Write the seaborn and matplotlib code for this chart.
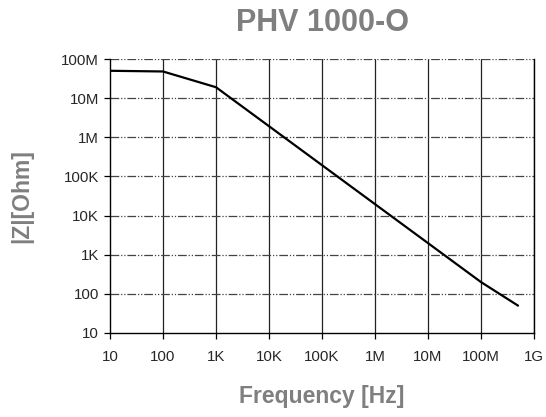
import numpy as np
import pandas as pd
import matplotlib
matplotlib.use("Agg")
import matplotlib.pyplot as plt
import seaborn as sns

# impedance curve
freq_hz = [10, 100, 1e3, 1e8, 5e8]
z_ohm = [50e6, 48e6, 19e6, 200, 50]

x_ticks = [1e1, 1e2, 1e3, 1e4, 1e5, 1e6, 1e7, 1e8, 1e9]
x_labels = ['10', '100', '1K', '10K', '100K', '1M', '10M', '100M', '1G']
y_ticks = [1e1, 1e2, 1e3, 1e4, 1e5, 1e6, 1e7, 1e8]
y_labels = ['10', '100', '1K', '10K', '100K', '1M', '10M', '100M']

df = pd.DataFrame({'freq': freq_hz, 'z': z_ohm})

sns.set_style("white")
plt.rcParams['font.family'] = ['Liberation Sans', 'DejaVu Sans']

fig = plt.figure(figsize=(5.46, 4.17), dpi=100)
ax = fig.add_axes([110 / 546, 1 - 333 / 417, 424 / 546, 274 / 417])

sns.lineplot(data=df, x='freq', y='z', ax=ax, color='black', linewidth=1.6)
ax.set_xscale('log')
ax.set_yscale('log')
ax.set_xlim(1e1, 1e9)
ax.set_ylim(1e1, 1e8)

ax.set_xticks(x_ticks)
ax.set_xticklabels(x_labels)
ax.set_yticks(y_ticks)
ax.set_yticklabels(y_labels)
ax.minorticks_off()
ax.tick_params(axis='both', direction='out', length=4, width=0.9,
               labelsize=10.8, color='black', bottom=True, left=True, pad=4)
ax.tick_params(axis='x', pad=8)

# grid: solid verticals, dash-dot-dot horizontals
ax.grid(False)
for xt in x_ticks[1:]:
    ax.axvline(xt, color='#222222', linewidth=0.9, zorder=0)
for yt in y_ticks[1:]:
    ax.axhline(yt, color='#444444', linewidth=0.9,
               linestyle=(0, (7, 1.5, 1, 1.5, 1, 1.5)), zorder=0)

for side in ['left', 'bottom', 'right']:
    ax.spines[side].set_color('black')
    ax.spines[side].set_linewidth(1.0)
ax.spines['top'].set_visible(False)

ax.set_xlabel('Frequency [Hz]', fontsize=16.5, fontweight='bold',
              color='#7f7f7f', labelpad=15)
ax.set_ylabel('|Z|[Ohm]', fontsize=16.5, fontweight='bold',
              color='#7f7f7f', labelpad=20)
fig.text(323 / 546, 1 - 23 / 417, 'PHV 1000-O', fontsize=22, fontweight='bold',
         color='#7f7f7f', ha='center', va='center')

fig.savefig('out.png', dpi=100)
